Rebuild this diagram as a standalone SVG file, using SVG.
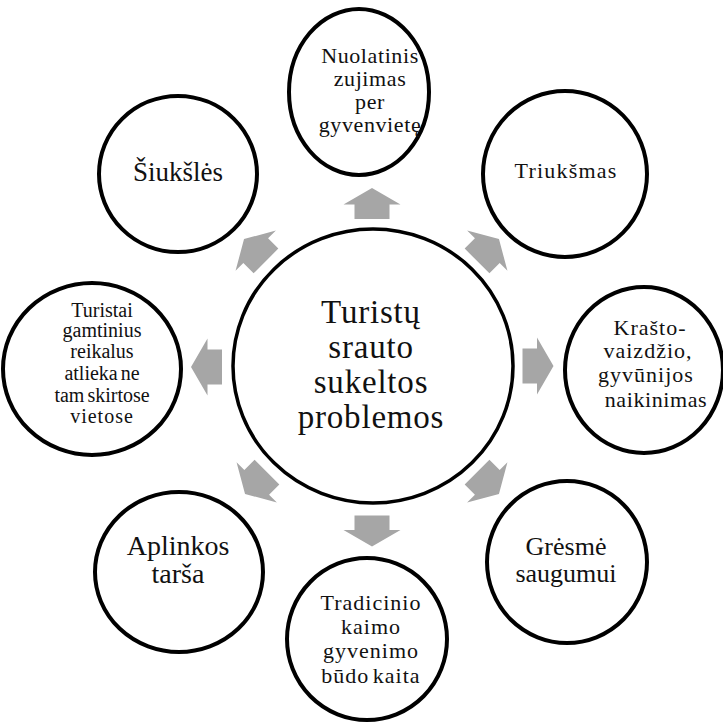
<svg xmlns="http://www.w3.org/2000/svg" width="723" height="724" viewBox="0 0 723 724">
<defs>
<style>
.node{fill:#fff;stroke:#000;stroke-width:4}
.center{fill:#fff;stroke:#000;stroke-width:3.5}
.arr{fill:#a6a6a6}
text{font-family:"Liberation Serif","Times New Roman",serif;fill:#111;text-anchor:middle}
.s20{font-size:20px}
.s22{font-size:22px;letter-spacing:1px}
</style>
<path id="arrow" d="M0,-15.5 L28.5,1 L17.5,1 L17.5,15.5 L-17.5,15.5 L-17.5,1 L-28.5,1 Z"/>
</defs>
<rect width="723" height="724" fill="#fff"/>
<g id="connectors">
<use href="#arrow" class="arr" transform="translate(372,203.5)"/>
<use href="#arrow" class="arr" transform="translate(488,250) rotate(45)"/>
<use href="#arrow" class="arr" transform="translate(538,366) rotate(90)"/>
<use href="#arrow" class="arr" transform="translate(488,483) rotate(135)"/>
<use href="#arrow" class="arr" transform="translate(372,531) rotate(180)"/>
<use href="#arrow" class="arr" transform="translate(256,483) rotate(225)"/>
<use href="#arrow" class="arr" transform="translate(206.5,367) rotate(270)"/>
<use href="#arrow" class="arr" transform="translate(255,250) rotate(315)"/>
</g>
<g id="center">
<ellipse class="center" cx="373" cy="366" rx="140" ry="137"/>
<text style="font-size:33px;letter-spacing:0.8px" x="371" y="323">Turistų</text>
<text style="font-size:33px;letter-spacing:0.8px" x="371" y="358">srauto</text>
<text style="font-size:33px;letter-spacing:0.8px" x="371" y="393">sukeltos</text>
<text style="font-size:33px;letter-spacing:0.8px" x="371" y="428">problemos</text>
</g>
<g id="n-top">
<ellipse class="node" cx="359" cy="92" rx="70" ry="83"/>
<text class="s22" x="370" y="63" style="letter-spacing:0.6px">Nuolatinis</text>
<text class="s22" x="370" y="86" style="letter-spacing:0.6px">zujimas</text>
<text class="s22" x="370" y="109" style="letter-spacing:0.6px">per</text>
<text class="s22" x="370" y="132" style="letter-spacing:0.6px">gyvenvietę</text>
</g>
<g id="n-siuksles">
<ellipse class="node" cx="178" cy="174" rx="79" ry="78"/>
<text style="font-size:27px" x="178" y="181">Šiukšlės</text>
</g>
<g id="n-triuksmas">
<ellipse class="node" cx="565" cy="174" rx="82" ry="83"/>
<text class="s22" x="566" y="178" style="letter-spacing:1.2px">Triukšmas</text>
</g>
<g id="n-turistai">
<ellipse class="node" cx="92" cy="369" rx="89" ry="86"/>
<text class="s20" x="102" y="317">Turistai</text>
<text class="s20" x="102" y="337">gamtinius</text>
<text class="s20" x="102" y="358">reikalus</text>
<text class="s20" x="102" y="380" style="word-spacing:-2px">atlieka ne</text>
<text class="s20" x="102" y="402" style="word-spacing:-2px">tam skirtose</text>
<text class="s20" x="102" y="423" style="letter-spacing:1px">vietose</text>
</g>
<g id="n-krasto">
<ellipse class="node" cx="644" cy="370" rx="79" ry="83"/>
<text class="s22" x="650" y="335">Krašto-</text>
<text class="s22" x="648" y="358">vaizdžio,</text>
<text class="s22" x="646" y="382">gyvūnijos</text>
<text class="s22" x="656" y="407" style="letter-spacing:0.6px">naikinimas</text>
</g>
<g id="n-aplinkos">
<ellipse class="node" cx="179" cy="572" rx="84" ry="80"/>
<text style="font-size:28px" x="178" y="555">Aplinkos</text>
<text style="font-size:28px" x="178" y="583">tarša</text>
</g>
<g id="n-gresme">
<ellipse class="node" cx="567" cy="562" rx="80" ry="81"/>
<text style="font-size:26px" x="566" y="555">Grėsmė</text>
<text style="font-size:26px" x="566" y="582">saugumui</text>
</g>
<g id="n-tradicinio">
<ellipse class="node" cx="367" cy="639" rx="80" ry="81"/>
<text class="s22" x="371" y="610">Tradicinio</text>
<text class="s22" x="371" y="634">kaimo</text>
<text class="s22" x="371" y="658">gyvenimo</text>
<text class="s22" x="371" y="683" style="word-spacing:-3px">būdo kaita</text>
</g>
</svg>
